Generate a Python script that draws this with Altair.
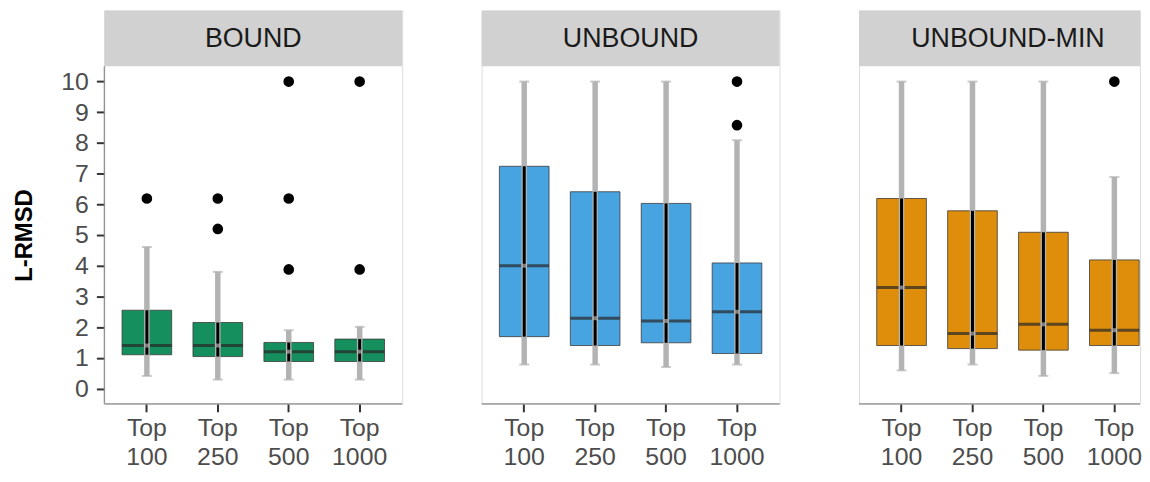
import altair as alt
import pandas as pd

groups = ["BOUND", "UNBOUND", "UNBOUND-MIN"]
tops = ["Top 100", "Top 250", "Top 500", "Top 1000"]

q1 = {"BOUND": [1.10, 1.04, 0.88, 0.88],
      "UNBOUND": [1.69, 1.40, 1.49, 1.14],
      "UNBOUND-MIN": [1.40, 1.30, 1.25, 1.40]}
med = {"BOUND": [1.40, 1.40, 1.20, 1.20],
       "UNBOUND": [4.00, 2.29, 2.20, 2.50],
       "UNBOUND-MIN": [3.29, 1.79, 2.09, 1.90]}
q3 = {"BOUND": [2.55, 2.15, 1.50, 1.61],
      "UNBOUND": [7.24, 6.41, 6.03, 4.09],
      "UNBOUND-MIN": [6.19, 5.79, 5.09, 4.19]}
lo = {"BOUND": [0.41, 0.29, 0.29, 0.29],
      "UNBOUND": [0.78, 0.78, 0.70, 0.78],
      "UNBOUND-MIN": [0.59, 0.78, 0.41, 0.50]}
hi = {"BOUND": [4.61, 3.80, 1.90, 2.01],
      "UNBOUND": [10.0, 10.0, 10.0, 8.09],
      "UNBOUND-MIN": [10.0, 10.0, 10.0, 6.89]}
outliers = {"BOUND": {"Top 100": [6.19], "Top 250": [6.19, 5.20],
                      "Top 500": [10.0, 6.19, 3.88], "Top 1000": [10.0, 3.88]},
            "UNBOUND": {"Top 1000": [10.0, 8.58]},
            "UNBOUND-MIN": {"Top 1000": [10.0]}}
fills = {"BOUND": "#168f5e", "UNBOUND": "#48a3e1", "UNBOUND-MIN": "#de8e0b"}

STRIP_H = 56
BODY_H = 340
TOTAL_H = STRIP_H + BODY_H
FULL_W = 300
STEP = FULL_W / 4.2
YMIN, YMAX_BODY = -0.5, 10.5
YMAX = YMIN + (YMAX_BODY - YMIN) * TOTAL_H / BODY_H

FONT = "Liberation Sans"
WHISK = "#b3b3b3"
FS = 25
PI = 0.3


def panel(g, width, first):
    df = pd.DataFrame({"top": tops, "q1": q1[g], "med": med[g], "q3": q3[g],
                       "lo": lo[g], "hi": hi[g]})
    odf = pd.DataFrame([{"top": t, "v": v} for t, vs in outliers[g].items() for v in vs])

    # band layout: same step and first-band offset in every panel
    n_units = width / STEP
    po = (n_units - (4 - PI)) / 2
    outer_total = width - STEP * (4 - PI)
    start = 0.25 * STEP
    align = min(1.0, start / outer_total)
    xscale = alt.Scale(domain=tops, paddingInner=PI, paddingOuter=po, align=align)
    xaxis = alt.Axis(domain=False, grid=False, labelAngle=0,
                     labelExpr="split(datum.label, ' ')",
                     labelFontSize=FS, labelColor="#4d4d4d", labelLineHeight=29,
                     labelFont=FONT, tickColor="#333333", tickWidth=2, tickSize=8,
                     labelPadding=4, title=None)
    yscale = alt.Scale(domain=[YMIN, YMAX], nice=False, zero=False)
    if first:
        yaxis = alt.Axis(values=list(range(11)), domain=False, grid=False,
                         tickColor="#333333", tickWidth=2, tickSize=8,
                         labelFontSize=FS, labelColor="#4d4d4d", labelFont=FONT,
                         labelPadding=8, title="L-RMSD", titleFontSize=24,
                         titleFontWeight="bold", titleColor="#000000", titleFont=FONT,
                         titleX=-80, titleY=STRIP_H + BODY_H / 2, titleAngle=270,
                         titleBaseline="middle", titleAlign="center")
    else:
        yaxis = None

    def X():
        return alt.X("top:N", sort=tops, scale=xscale, axis=xaxis)

    def Y(f):
        return alt.Y(f, type="quantitative", scale=yscale, axis=yaxis)

    base = alt.Chart(df)
    box = base.mark_bar(color=fills[g], stroke="#3a3a3a", strokeWidth=0.8).encode(
        x=X(), y=Y("q1"), y2="q3")
    medline = base.mark_tick(color="#262626", thickness=3, size=50).encode(
        x=X(), y=Y("med"))
    whisker = base.mark_rule(color=WHISK, strokeWidth=5.5).encode(
        x=X(), y=Y("lo"), y2="hi")
    cap_lo = base.mark_tick(color=WHISK, thickness=2, size=10).encode(x=X(), y=Y("lo"))
    cap_hi = base.mark_tick(color=WHISK, thickness=2, size=10).encode(x=X(), y=Y("hi"))
    inner = base.mark_bar(width=3, color="#000000").encode(x=X(), y=Y("q1"), y2="q3")
    inner_med = base.mark_tick(color=WHISK, thickness=4, size=6).encode(
        x=X(), y=Y("med"))
    pts = alt.Chart(odf).mark_circle(color="#000000", size=115, opacity=1).encode(
        x=X(), y=Y("v"))

    one = alt.Chart(pd.DataFrame({"g": [g]}))
    strip = one.mark_rect(color="#d1d1d1").encode(
        x=alt.value(0), x2=alt.value(width), y=alt.value(0), y2=alt.value(STRIP_H))
    strip_txt = one.mark_text(fontSize=27, color="#1a1a1a", font=FONT,
                              align="center", baseline="middle").encode(
        x=alt.value(FULL_W / 2), y=alt.value(STRIP_H / 2 + 1), text="g:N")
    xline = one.mark_rule(color="#8c8c8c", strokeWidth=1.2).encode(
        x=alt.value(0), x2=alt.value(width), y=alt.value(TOTAL_H))
    layers = [box, medline, whisker, cap_lo, cap_hi, inner, inner_med, pts,
              strip, strip_txt, xline]
    if first:
        yline = one.mark_rule(color="#8c8c8c", strokeWidth=1.2).encode(
            x=alt.value(0), y=alt.value(STRIP_H), y2=alt.value(TOTAL_H))
        layers.append(yline)
    return alt.layer(*layers).properties(width=width, height=TOTAL_H)


p1 = panel("BOUND", 300, True)
p2 = panel("UNBOUND", 300, False)
p3 = panel("UNBOUND-MIN", 283, False)

chart = alt.hconcat(p1, p2, p3, spacing=76).resolve_scale(
    x="independent", y="independent").properties(
    padding={"left": 4, "top": 0, "right": 0, "bottom": 0}
).configure_view(strokeWidth=0).configure(font=FONT, background="#ffffff")

chart.save("out.html", embed_options={"renderer": "svg", "actions": False})
